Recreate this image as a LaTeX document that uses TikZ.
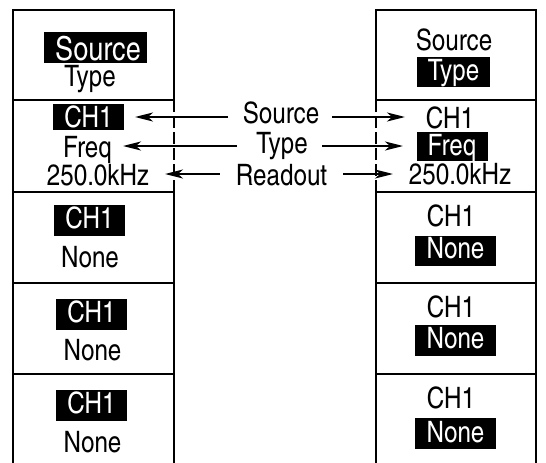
\documentclass[tikz,border=0pt]{standalone}
\usepackage{fontspec}
\setmainfont{texgyreheroscn-regular.otf}
\usetikzlibrary{arrows.meta}
\begin{document}
\begin{tikzpicture}[x=1pt,y=-1pt,
  border/.style={line width=2.6pt},
  sep/.style={line width=1.6pt},
  dashborder/.style={line width=2.6pt, dash pattern=on 12pt off 4pt},
  hlbox/.style={fill=black},
  txt/.style={anchor=base, inner sep=0pt, font=\fontsize{29.5}{29.5}\selectfont},
  wtxt/.style={txt, text=white},
  arr/.style={line width=1.8pt, -{Stealth[length=18pt,width=9pt,inset=5pt]}}]
\useasboundingbox (0,0) rectangle (546,463);
% left panel
\draw[border] (13,463) -- (13,10) -- (174,10) -- (174,100);
\draw[dashborder] (174,100) -- (174,192);
\draw[border] (174,192) -- (174,463);
\foreach \y in {100,192,283,374} \draw[sep] (13,\y) -- (174,\y);
% right panel
\draw[border] (376,463) -- (376,192);
\draw[dashborder] (376,192) -- (376,100);
\draw[border] (376,100) -- (376,10) -- (536,10) -- (536,463);
\foreach \y in {100,192,283,374} \draw[sep] (376,\y) -- (536,\y);
% highlight boxes left
\fill[hlbox] (44,32) rectangle (147,63);
\fill[hlbox] (53,104) rectangle (124,130);
\fill[hlbox] (54,205) rectangle (125,236);
\fill[hlbox] (56,299) rectangle (127,330);
\fill[hlbox] (56,390) rectangle (127,421);
% highlight boxes right
\fill[hlbox] (417,57) rectangle (490,87);
\fill[hlbox] (417,132) rectangle (488,161);
\fill[hlbox] (415,236) rectangle (496,266);
\fill[hlbox] (415,325) rectangle (496,356);
\fill[hlbox] (415,418) rectangle (496,449);
% left texts
\node[wtxt, font=\fontsize{33}{33}\selectfont] (lsrc) at (98,60) {Source};
\node[txt] (ltype) at (90,86) {Type};
\node[wtxt] (lch) at (88.5,127) {CH1};
\node[txt] (lfreq) at (87.5,157) {Freq};
\node[txt] (lread) at (98,185) {250.0kHz};
\node[wtxt] (lch3) at (89.5,228) {CH1};
\node[txt] (lno3) at (90,267) {None};
\node[wtxt] (lch4) at (91.5,322) {CH1};
\node[txt] (lno4) at (92.5,360) {None};
\node[wtxt] (lch5) at (91.5,413) {CH1};
\node[txt] (lno5) at (92.5,452) {None};
% right texts
\node[txt] (rsrc) at (454,50) {Source};
\node[wtxt] (rtype) at (453.5,80) {Type};
\node[txt] (rch) at (450,128) {CH1};
\node[wtxt] (rfreq) at (452,155) {Freq};
\node[txt] (rread) at (460,184) {250.0kHz};
\node[txt] (rch3) at (451,226) {CH1};
\node[wtxt] (rno3) at (455.5,258) {None};
\node[txt] (rch4) at (451,317) {CH1};
\node[wtxt] (rno4) at (455.5,348) {None};
\node[txt] (rch5) at (451,408) {CH1};
\node[wtxt] (rno5) at (455.5,442) {None};
% middle labels
\node[txt] (msrc) at (281,123) {Source};
\node[txt] (mtype) at (282,153) {Type};
\node[txt] (mread) at (281.5,185) {Readout};
% arrows
\draw[arr] (228,117) -- (135,117);
\draw[arr] (332,117) -- (405,117);
\draw[arr] (237,146) -- (123,146);
\draw[arr] (322,146) -- (403,146);
\draw[arr] (220,174) -- (165,174);
\draw[arr] (343,174) -- (393,174);
\end{tikzpicture}
\end{document}
